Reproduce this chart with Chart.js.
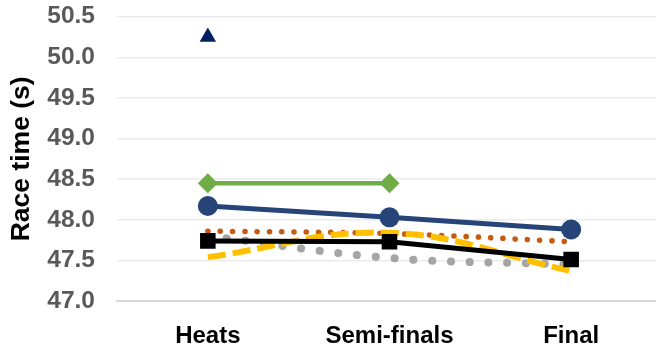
<!DOCTYPE html>
<html>
<head>
<meta charset="utf-8">
<script src="https://cdn.jsdelivr.net/npm/chart.js@4/dist/chart.umd.min.js"></script>
<style>
  html, body { margin: 0; padding: 0; background: #fff; overflow: hidden; }
  #wrap { width: 662px; height: 355px; position: relative; }
</style>
</head>
<body>
<div id="wrap"><canvas id="myChart"></canvas></div>
<script>
const rounds = ['Heats', 'Semi-finals', 'Final'];
const yTicks = [47.0, 47.5, 48.0, 48.5, 49.0, 49.5, 50.0, 50.5];

// one array per athlete / line
const triangleTimes = [50.25, null, null];
const greenTimes = [48.45, 48.45, null];
const blueTimes = [48.17, 48.03, 47.88];
const blackTimes = [47.74, 47.73, 47.51];
const yellowTimes = [47.54, 47.84, 47.37];
const orangeTimes = [47.86, 47.83, 47.73];
const greyTimes = [47.80, 47.53, 47.45];

const ctx = document.getElementById('myChart').getContext('2d');
const font = 'Liberation Sans, Arial, sans-serif';

const myChart = new Chart(ctx, {
  type: 'line',
  data: {
    labels: rounds,
    datasets: [
      {
        data: triangleTimes,
        showLine: false,
        pointStyle: 'triangle',
        pointRadius: 9.5,
        backgroundColor: '#002060',
        borderColor: '#002060',
        pointBorderWidth: 0
      },
      {
        data: greenTimes,
        borderColor: '#70AD47',
        backgroundColor: '#70AD47',
        borderWidth: 4.5,
        pointStyle: 'rectRot',
        pointRadius: 10,
        pointBorderWidth: 0
      },
      {
        data: blueTimes,
        borderColor: '#264478',
        backgroundColor: '#264478',
        borderWidth: 5,
        pointStyle: 'circle',
        pointRadius: 10,
        pointBorderWidth: 0
      },
      {
        data: blackTimes,
        borderColor: '#000000',
        backgroundColor: '#000000',
        borderWidth: 5,
        pointStyle: 'rect',
        pointRadius: 11,
        pointBorderWidth: 0
      },
      {
        data: yellowTimes,
        borderColor: '#FFC000',
        borderWidth: 6,
        borderDash: [18, 7],
        tension: 0.4,
        pointRadius: 0
      },
      {
        data: orangeTimes,
        borderColor: '#C55A11',
        borderWidth: 5.5,
        borderDash: [0.1, 12.2],
        borderCapStyle: 'round',
        tension: 0.4,
        pointRadius: 0
      },
      {
        data: greyTimes,
        borderColor: '#A5A5A5',
        borderWidth: 8,
        borderDash: [0.1, 18.7],
        borderCapStyle: 'round',
        tension: 0.4,
        pointRadius: 0
      }
    ]
  },
  options: {
    responsive: true,
    maintainAspectRatio: false,
    animation: false,
    layout: { autoPadding: false, padding: { top: 15, left: 0, right: 0, bottom: 0 } },
    plugins: {
      legend: { display: false },
      tooltip: { enabled: false }
    },
    scales: {
      x: {
        offset: true,
        grid: { display: false, offset: true },
        border: { display: true, color: '#d9d9d9', width: 2 },
        ticks: {
          color: '#000000',
          padding: 13,
          font: { family: font, size: 24, weight: 'bold' }
        },
        afterFit: function(scale) { scale.height = 54; }
      },
      y: {
        min: 47.0,
        max: 50.5,
        afterBuildTicks: function(scale) {
          scale.ticks = yTicks.map(v => ({ value: v }));
        },
        grid: { color: '#ebebeb', lineWidth: 1.5, drawTicks: true, tickLength: 20, tickColor: 'rgba(0,0,0,0)' },
        border: { display: false },
        ticks: {
          color: '#595959',
          padding: 2,
          font: { family: font, size: 24.5, weight: 'bold' },
          callback: v => v.toFixed(1)
        },
        title: {
          display: true,
          text: 'Race time (s)',
          color: '#000000',
          padding: { top: 6, bottom: 0 },
          font: { family: font, size: 26.5, weight: 'bold' }
        },
        afterFit: function(scale) { scale.width = 117; }
      }
    }
  }
});
</script>
</body>
</html>
